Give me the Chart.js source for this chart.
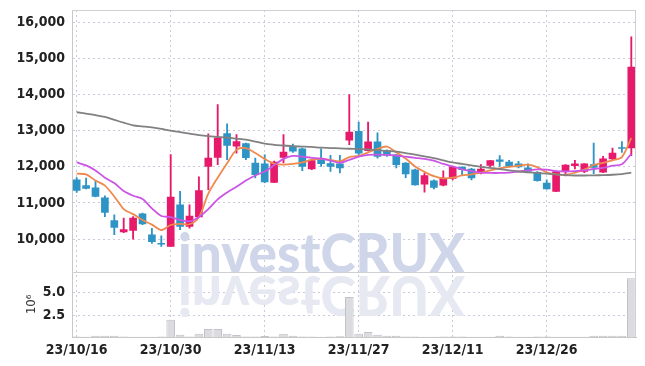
<!DOCTYPE html>
<html>
<head>
<meta charset="utf-8">
<script src="https://cdn.jsdelivr.net/npm/chart.js@4.4.0/dist/chart.umd.min.js"></script>
<style>
  html, body { margin: 0; padding: 0; background: #fff; }
</style>
</head>
<body>
<canvas id="myChart" width="645" height="366"></canvas>
<script>
// trading days shown on the chart
const dates = [
  "23/10/16", "23/10/17", "23/10/18", "23/10/19", "23/10/20",
  "23/10/23", "23/10/24", "23/10/25", "23/10/26", "23/10/27",
  "23/10/30", "23/10/31", "23/11/01", "23/11/02", "23/11/03",
  "23/11/06", "23/11/07", "23/11/08", "23/11/09", "23/11/10",
  "23/11/13", "23/11/14", "23/11/15", "23/11/16", "23/11/17",
  "23/11/20", "23/11/21", "23/11/22", "23/11/23", "23/11/24",
  "23/11/27", "23/11/28", "23/11/29", "23/11/30", "23/12/01",
  "23/12/04", "23/12/05", "23/12/06", "23/12/07", "23/12/08",
  "23/12/11", "23/12/12", "23/12/13", "23/12/14", "23/12/15",
  "23/12/18", "23/12/19", "23/12/20", "23/12/21", "23/12/22",
  "23/12/26", "23/12/27", "23/12/28", "24/01/02", "24/01/03",
  "24/01/04", "24/01/05", "24/01/08", "24/01/09", "24/01/10"
];

const opens = [
  11640, 11480, 11420, 11140, 10510, 10200, 10240, 10700, 10120, 9880,
  9800, 10950, 10350, 10610, 12010, 12260, 12920, 12570, 12640, 12100,
  12080, 11570, 12260, 12550, 12500, 11940, 12220, 12090, 12080, 12740,
  12980, 12450, 12690, 12450, 12330, 12100, 11920, 11520, 11610, 11490,
  11680, 11990, 11940, 11830, 12040, 12190, 12130, 12080, 11970, 11850,
  11550, 11320, 11870, 12030, 11870, 12060, 11850, 12220, 12530, 12520
];
const highs = [
  11700, 11690, 11600, 11200, 10670, 10580, 10620, 10720, 10300, 10090,
  12340, 11320, 10950, 11720, 12910, 13720, 13190, 12890, 12660, 12240,
  12330, 12160, 12890, 12630, 12520, 12200, 12500, 12320, 12320, 14000,
  13240, 13240, 12940, 12470, 12340, 12120, 11940, 11830, 11640, 11890,
  12000, 12000, 11960, 12060, 12180, 12310, 12180, 12150, 12080, 11870,
  11640, 11880, 12060, 12180, 12090, 12660, 12290, 12520, 12700, 15600
];
const lows = [
  11290, 11390, 11170, 10620, 10120, 10180, 10000, 10400, 9880, 9800,
  9800, 10260, 10300, 10600, 11370, 12060, 12200, 12380, 12200, 11690,
  11560, 11560, 12110, 12400, 11890, 11920, 12010, 11870, 11830, 12610,
  12330, 12440, 12240, 12290, 11970, 11700, 11490, 11300, 11390, 11470,
  11640, 11780, 11640, 11800, 12000, 12010, 12000, 11970, 11850, 11600,
  11380, 11310, 11750, 11940, 11840, 11810, 11840, 12200, 12400, 12310
];
const closes = [
  11350, 11400, 11180, 10740, 10320, 10260, 10580, 10420, 9930, 9860,
  11160, 10350, 10640, 11340, 12240, 12800, 12590, 12700, 12250, 11780,
  11580, 12130, 12410, 12430, 12010, 12170, 12090, 12010, 11970, 12960,
  12380, 12690, 12290, 12320, 12060, 11800, 11500, 11760, 11430, 11690,
  11990, 11920, 11690, 11940, 12170, 12150, 12010, 12000, 11870, 11620,
  11390, 11870, 12050, 12080, 12080, 11980, 12220, 12380, 12510, 14760
];

// moving averages
const maShort = [
  11810, 11790, 11620, 11480, 11180, 10830, 10690, 10530, 10400, 10250,
  10390, 10420, 10410, 10600, 11260, 11700, 12100, 12470, 12520, 12380,
  12220, 12090, 12060, 12080, 12120, 12200, 12220, 12190, 12150, 12270,
  12300, 12400, 12500, 12560, 12400, 12230, 12010, 11860, 11740, 11680,
  11700, 11760, 11790, 11840, 11900, 11960, 12000, 12030, 12060, 11990,
  11850, 11790, 11780, 11840, 11920, 12050, 12110, 12180, 12270, 12800
];
const maMid = [
  12120, 12040, 11900, 11700, 11550, 11330, 11200, 11110, 10850, 10640,
  10610, 10530, 10490, 10610, 10830, 11100, 11290, 11450, 11620, 11760,
  11870, 12040, 12220, 12300, 12280, 12250, 12230, 12170, 12110, 12190,
  12280, 12330, 12335, 12330, 12310, 12280, 12250, 12220, 12170, 12080,
  12010, 11930, 11880, 11840, 11830, 11830, 11840, 11870, 11900, 11930,
  11920, 11880, 11870, 11880, 11900, 11940, 11970, 12030, 12070, 12360
];
const maLong = [
  13510, 13470, 13430, 13380, 13300, 13220, 13150, 13120, 13090, 13050,
  13000, 12960, 12920, 12880, 12850, 12830, 12810, 12780, 12750, 12700,
  12640, 12610, 12590, 12570, 12560, 12550, 12530, 12520, 12510, 12500,
  12490, 12480, 12460, 12440, 12420, 12380, 12340, 12290, 12240, 12180,
  12120, 12080, 12040, 12000, 11970, 11940, 11900, 11870, 11850, 11830,
  11810, 11790, 11770, 11760, 11760, 11765, 11770, 11780, 11800, 11840
];

// volume in millions
const volumes = [
  0.26, 0.24, 0.33, 0.33, 0.33, 0.25, 0.24, 0.24, 0.24, 0.25,
  2.04, 0.44, 0.26, 0.54, 1.05, 1.05, 0.54, 0.41, 0.26, 0.25,
  0.30, 0.25, 0.54, 0.33, 0.26, 0.25, 0.24, 0.26, 0.28, 4.47,
  0.54, 0.73, 0.44, 0.33, 0.33, 0.26, 0.25, 0.24, 0.24, 0.25,
  0.26, 0.25, 0.24, 0.24, 0.24, 0.33, 0.25, 0.24, 0.24, 0.25,
  0.25, 0.24, 0.24, 0.24, 0.24, 0.33, 0.33, 0.33, 0.33, 6.50
];

const priceTicks = [10000, 11000, 12000, 13000, 14000, 15000, 16000];
const volumeTicks = [2.5, 5.0];

const upColor = "#e6196a";
const downColor = "#2e94c6";
const candleColors = opens.map((o, i) => closes[i] >= o ? upColor : downColor);

const tickFont = { family: "'Liberation Sans Narrow', 'DejaVu Sans Condensed', sans-serif", size: 14, weight: "bold" };
const gridColor = "#c9cbdd";

const framePlugin = {
  id: "frame",
  beforeDatasetsDraw(chart) {
    const ctx = chart.ctx;
    const base = chart.scales.yv.top + 1;
    ctx.save();
    ctx.font = "900 56px Lato, 'Open Sans', sans-serif";
    const w = ctx.measureText("investCRUX").width;
    ctx.translate(178, base);
    ctx.scale(287 / w, 1);
    ctx.fillStyle = "rgb(208,214,234)";
    ctx.fillText("investCRUX", 0, 0);
    ctx.scale(1, -1);
    ctx.fillStyle = "rgb(230,232,242)";
    ctx.fillText("investCRUX", 0, -3);
    ctx.restore();
  },
  afterDraw(chart) {
    const ctx = chart.ctx;
    const a = chart.chartArea;
    const mid = chart.scales.yv.top;
    ctx.save();
    ctx.strokeStyle = "#cfcfd4";
    ctx.lineWidth = 1;
    ctx.beginPath();
    ctx.moveTo(a.left, a.top + 0.5);
    ctx.lineTo(a.right, a.top + 0.5);
    ctx.moveTo(a.right - 0.5, a.top);
    ctx.lineTo(a.right - 0.5, a.bottom);
    ctx.moveTo(a.left, Math.round(mid) + 0.5);
    ctx.lineTo(a.right, Math.round(mid) + 0.5);
    ctx.stroke();
    ctx.restore();
  }
};

function fixY(s) {
  s.width = 72;
  s.paddingTop = 0;
  s.paddingBottom = 0;
}

new Chart(document.getElementById("myChart"), {
  data: {
    labels: dates,
    datasets: [
      {
        type: "line", label: "MA long", data: maLong, yAxisID: "y",
        borderColor: "#818181", borderWidth: 1.8, pointRadius: 0, tension: 0.3, order: 0
      },
      {
        type: "line", label: "MA mid", data: maMid, yAxisID: "y",
        borderColor: "#cc55e6", borderWidth: 1.8, pointRadius: 0, tension: 0.3, order: 0
      },
      {
        type: "line", label: "MA short", data: maShort, yAxisID: "y",
        borderColor: "#ef8a4f", borderWidth: 1.8, pointRadius: 0, tension: 0.3, order: 0
      },
      {
        type: "bar", label: "body", yAxisID: "y", grouped: false, order: 1,
        data: opens.map((o, i) => [o, closes[i]]),
        backgroundColor: candleColors, barThickness: 7
      },
      {
        type: "bar", label: "wick", yAxisID: "y", grouped: false, order: 2,
        data: lows.map((l, i) => [l, highs[i]]),
        backgroundColor: candleColors, barThickness: 1.2
      },
      {
        type: "bar", label: "volume", yAxisID: "yv", grouped: false, order: 3,
        data: volumes,
        backgroundColor: "#dcdce0", borderColor: "#c2c2c8", borderWidth: 1,
        barPercentage: 0.92, categoryPercentage: 1
      }
    ]
  },
  options: {
    responsive: false,
    animation: false,
    layout: { padding: { top: 10, right: 9, left: 0, bottom: 0 } },
    plugins: { legend: { display: false }, tooltip: { enabled: false } },
    scales: {
      x: {
        type: "category",
        offset: true,
        grid: { offset: false, color: gridColor, drawTicks: false },
        border: { color: "#c8c8c8", dash: [2, 3] },
        ticks: {
          autoSkip: false, maxRotation: 0, padding: 5, color: "#222", font: tickFont,
          callback: function (v, i) { return i % 10 === 0 ? dates[i] : null; }
        },
        afterFit: function (s) { s.height = 29; }
      },
      yv: {
        position: "left", stack: "main", stackWeight: 1,
        min: 0.2, max: 7.2,
        grid: { color: gridColor, drawTicks: false },
        border: { color: "#c8c8c8", dash: [2, 3] },
        title: { display: true, text: "10⁶", color: "#333", padding: { top: 24, bottom: 0 },
                 font: { family: "'DejaVu Sans Condensed', sans-serif", size: 13 } },
        ticks: {
          padding: 7, color: "#222", font: tickFont,
          callback: v => v.toFixed(1)
        },
        afterBuildTicks: function (s) { s.ticks = volumeTicks.map(v => ({ value: v })); },
        afterFit: fixY
      },
      y: {
        position: "left", stack: "main", stackWeight: 4,
        min: 9100, max: 16340,
        grid: { color: gridColor, drawTicks: false },
        border: { color: "#c8c8c8", dash: [2, 3] },
        ticks: {
          padding: 7, color: "#222", font: tickFont,
          callback: v => v.toLocaleString("en-US")
        },
        afterBuildTicks: function (s) { s.ticks = priceTicks.map(v => ({ value: v })); },
        afterFit: fixY
      }
    }
  },
  plugins: [framePlugin]
});
</script>
</body>
</html>
